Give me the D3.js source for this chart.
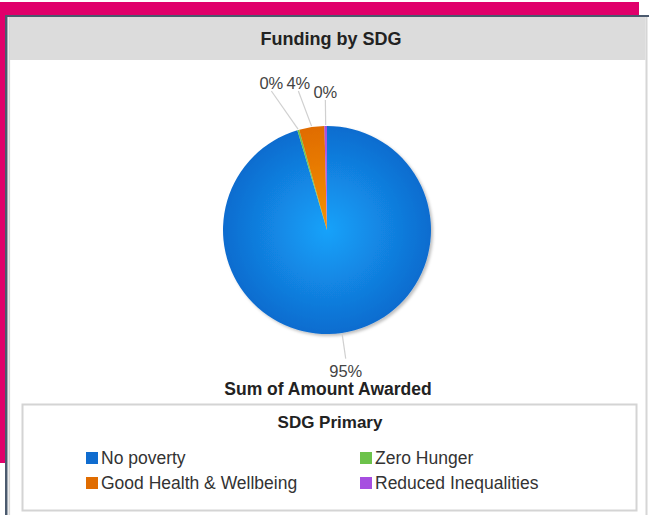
<!DOCTYPE html>
<html>
<head>
<meta charset="utf-8">
<title>Funding by SDG</title>
<script src="https://cdnjs.cloudflare.com/ajax/libs/d3/7.8.5/d3.min.js"></script>
<style>
  body { margin: 0; background: #fff; }
  text { font-family: "Liberation Sans", Arial, Helvetica, sans-serif; }
</style>
</head>
<body>
<script>
  // chart data (share of Sum of Amount Awarded, %)
  var categories = ["No poverty", "Zero Hunger", "Good Health & Wellbeing", "Reduced Inequalities"];
  var shares = [95.4, 0.3, 3.9, 0.4];
  var colors = ["#0f6ccf", "#6cc24a", "#e06c00", "#a64ee0"];
  var lightColors = ["#15a2fa", "#8bd868", "#f59200", "#c27af0"];
  var title = "Funding by SDG";
  var seriesName = "Sum of Amount Awarded";
  var legendTitle = "SDG Primary";

  var W = 649, H = 515;
  var cx = 327, cy = 230, r = 104;

  var svg = d3.select("body").append("svg")
      .attr("width", W)
      .attr("height", H);

  // page frame around the widget
  svg.append("rect").attr("x", 0).attr("y", 2).attr("width", 639).attr("height", 14).attr("fill", "#e0006b");
  svg.append("rect").attr("x", 0).attr("y", 2).attr("width", 6).attr("height", 461).attr("fill", "#e0006b");
  svg.append("rect").attr("x", 5).attr("y", 15).attr("width", 2.5).attr("height", H - 15).attr("fill", "#4b5a6e");
  svg.append("rect").attr("x", 5).attr("y", 15).attr("width", W - 5).attr("height", 2).attr("fill", "#4b5a6e");
  svg.append("rect").attr("x", 8.5).attr("y", 17).attr("width", 1.6).attr("height", H - 17).attr("fill", "#d6d6d6");
  svg.append("rect").attr("x", 645.5).attr("y", 17).attr("width", 2).attr("height", H - 17).attr("fill", "#d6d6d6");

  // header
  svg.append("rect").attr("x", 10).attr("y", 17).attr("width", 635.5).attr("height", 43).attr("fill", "#dcdcdc");
  svg.append("text")
      .attr("x", 331).attr("y", 45)
      .attr("text-anchor", "middle")
      .style("font-size", "18px").style("font-weight", "bold").attr("fill", "#222")
      .text(title);

  var defs = svg.append("defs");
  colors.forEach(function(c, i) {
    var gr = defs.append("radialGradient")
        .attr("id", "grad" + i)
        .attr("gradientUnits", "userSpaceOnUse")
        .attr("cx", 0).attr("cy", 0).attr("r", r);
    gr.append("stop").attr("offset", "0%").attr("stop-color", lightColors[i]);
    gr.append("stop").attr("offset", "100%").attr("stop-color", c);
  });
  var shadow = defs.append("filter").attr("id", "shadow")
      .attr("x", "-20%").attr("y", "-20%").attr("width", "140%").attr("height", "140%");
  shadow.append("feDropShadow")
      .attr("dx", 2).attr("dy", 2).attr("stdDeviation", 1.5)
      .attr("flood-color", "#000").attr("flood-opacity", 0.25);

  var data = categories.map(function(c, i) { return { name: c, value: shares[i], i: i }; });
  var pie = d3.pie().sort(null).value(function(d) { return d.value; });
  var arcs = pie(data);
  var arc = d3.arc().innerRadius(0).outerRadius(r);
  var edgeArc = d3.arc().innerRadius(r + 1).outerRadius(r + 1);
  var labelArc = d3.arc().innerRadius(r + 26).outerRadius(r + 26);

  var g = svg.append("g").attr("transform", "translate(" + cx + "," + cy + ")");
  g.append("g").attr("filter", "url(#shadow)")
    .selectAll("path")
    .data(arcs)
    .enter()
    .append("path")
      .attr("d", arc)
      .attr("fill", function(d) { return "url(#grad" + d.data.i + ")"; });

  // label positions, spreading crowded labels near the top
  var total = d3.sum(shares);
  var labels = arcs.map(function(d) {
    var p = labelArc.centroid(d), e = edgeArc.centroid(d);
    return { d: d, x: p[0], y: p[1], ex: e[0], ey: e[1],
             text: Math.round(d.data.value / total * 100) + "%" };
  });
  var topLabels = labels.filter(function(l) { return l.y < 0; })
      .sort(function(a, b) { return b.x - a.x; });
  for (var k = 1; k < topLabels.length; k++) {
    if (topLabels[k - 1].x - topLabels[k].x < 27) {
      topLabels[k].x = topLabels[k - 1].x - 27;
      topLabels[k].y = Math.min(topLabels[k].y, topLabels[0].y - 9);
    }
  }

  g.selectAll("line.leader")
    .data(labels)
    .enter()
    .append("line")
      .attr("class", "leader")
      .attr("x1", function(l) { return l.ex; })
      .attr("y1", function(l) { return l.ey; })
      .attr("x2", function(l) { return l.x; })
      .attr("y2", function(l) { return l.y; })
      .attr("stroke", "#d0d0d0").attr("stroke-width", 1.2);

  g.selectAll("text.pct")
    .data(labels)
    .enter()
    .append("text")
      .attr("class", "pct")
      .attr("x", function(l) { return l.x; })
      .attr("y", function(l) { return l.y < 0 ? l.y - 2 : l.y + 18; })
      .attr("text-anchor", "middle")
      .style("font-size", "16.5px").attr("fill", "#444")
      .text(function(l) { return l.text; });

  svg.append("text")
      .attr("x", 328).attr("y", 395)
      .attr("text-anchor", "middle")
      .style("font-size", "17.5px").style("font-weight", "bold").attr("fill", "#222")
      .text(seriesName);

  // legend
  svg.append("rect")
      .attr("x", 22.5).attr("y", 404.5).attr("width", 614).attr("height", 106)
      .attr("fill", "#fff").attr("stroke", "#d4d4d4").attr("stroke-width", 2);
  svg.append("text")
      .attr("x", 330).attr("y", 428)
      .attr("text-anchor", "middle")
      .style("font-size", "17px").style("font-weight", "bold").attr("fill", "#222")
      .text(legendTitle);

  var legendX = d3.scaleOrdinal().domain([0, 1]).range([86, 360]);
  var legendY = d3.scaleOrdinal().domain([0, 1]).range([458, 483]);
  var item = svg.selectAll("g.legend-item")
    .data(data)
    .enter()
    .append("g")
      .attr("class", "legend-item")
      .attr("transform", function(d) {
        return "translate(" + legendX(d.i % 2) + "," + legendY(Math.floor(d.i / 2)) + ")";
      });
  item.append("rect")
      .attr("x", 0).attr("y", -6).attr("width", 12).attr("height", 12)
      .attr("fill", function(d) { return colors[d.i]; });
  item.append("text")
      .attr("x", 15).attr("y", 6)
      .style("font-size", "17.5px").attr("fill", "#333")
      .text(function(d) { return d.name; });
</script>
</body>
</html>
